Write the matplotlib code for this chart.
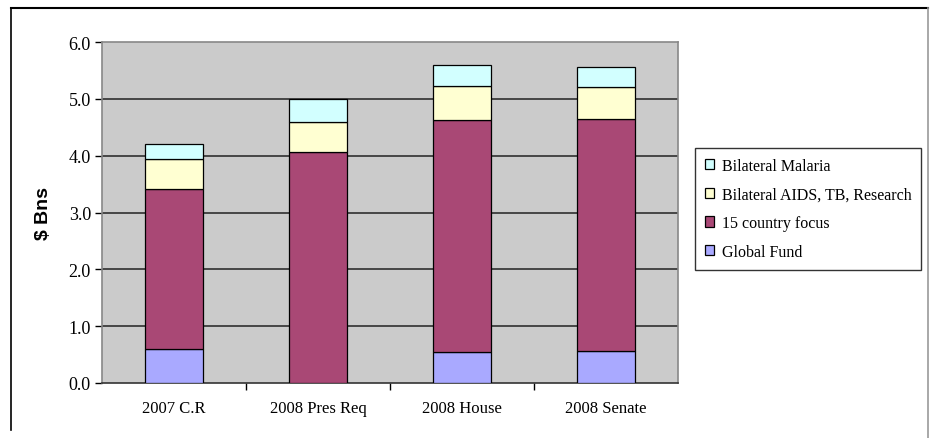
import numpy as np
import matplotlib
matplotlib.use('Agg')
import matplotlib.pyplot as plt
from matplotlib.lines import Line2D

# data ($ billions)
categories = ['2007 C.R', '2008 Pres Req', '2008 House', '2008 Senate']
global_fund = [0.60, 0.00, 0.54, 0.57]
country_focus = [2.82, 4.07, 4.08, 4.08]
aids_tb = [0.53, 0.52, 0.61, 0.56]
malaria = [0.26, 0.40, 0.36, 0.35]

series = [
    ('Global Fund', global_fund, '#A9A9FF'),
    ('15 country focus', country_focus, '#A94875'),
    ('Bilateral AIDS, TB, Research', aids_tb, '#FFFFD2'),
    ('Bilateral Malaria', malaria, '#D2FFFF'),
]

W, H = 930, 439
fig = plt.figure(figsize=(W / 100, H / 100), dpi=100)
serif = 'Liberation Serif'

ax = fig.add_axes([102 / W, 1 - 384 / H, 576 / W, 341 / H])
ax.set_facecolor('#CBCBCB')

x = np.arange(len(categories))
bottom = np.zeros(len(categories))
handles = []
for name, vals, col in series:
    vals = np.asarray(vals)
    b = ax.bar(x, vals, width=0.4, bottom=bottom, color=col,
               edgecolor='black', linewidth=0.9, label=name, zorder=3)
    handles.append(b)
    bottom += vals

ax.set_xlim(-0.5, len(categories) - 0.5)
ax.set_ylim(0, 6)
ax.set_yticks(np.arange(0, 6.01, 1.0))
ax.set_yticklabels(['%.1f' % v for v in np.arange(0, 6.01, 1.0)],
                   fontfamily=serif, fontsize=13)
ax.set_xticks(x)
ax.set_xticklabels(categories, fontfamily=serif, fontsize=12)
ax.tick_params(axis='x', length=0, pad=12)
ax.set_xticks(np.arange(0.5, len(categories) - 0.5, 1.0), minor=True)
ax.tick_params(axis='x', which='minor', length=5, width=1, color='black')
ax.tick_params(axis='y', length=5, width=1, color='black', pad=3)

for v in range(1, 6):
    ax.axhline(v, color='#222222', linewidth=1.1, zorder=1)

for side in ['top', 'right', 'left']:
    ax.spines[side].set_color('#888888')
    ax.spines[side].set_linewidth(1.2)
ax.spines['bottom'].set_color('#333333')
ax.spines['bottom'].set_linewidth(1.2)

ax.set_ylabel('$ Bns', fontfamily='Liberation Sans', fontweight='bold',
              fontsize=14, labelpad=12)

leg = fig.legend(handles[::-1], [s[0] for s in series][::-1],
                 loc='upper left', bbox_to_anchor=(695 / W, 1 - 149 / H),
                 prop={'family': serif, 'size': 11.5},
                 frameon=True, fancybox=False, edgecolor='black',
                 handlelength=0.6, handleheight=0.6, handletextpad=0.5,
                 labelspacing=0.8, borderpad=0.6, borderaxespad=0)
leg.get_frame().set_linewidth(1.0)

# outer chart frame
fig.add_artist(Line2D([11 / W, 928 / W], [1 - 9 / H, 1 - 9 / H],
                      transform=fig.transFigure, color='black', linewidth=1.5))
fig.add_artist(Line2D([11 / W, 11 / W], [1 - 9 / H, 1 - 431 / H],
                      transform=fig.transFigure, color='black', linewidth=1.2))
fig.add_artist(Line2D([928 / W, 928 / W], [1 - 9 / H, 0],
                      transform=fig.transFigure, color='#999999', linewidth=1.2))

fig.savefig('out.png', dpi=100)
